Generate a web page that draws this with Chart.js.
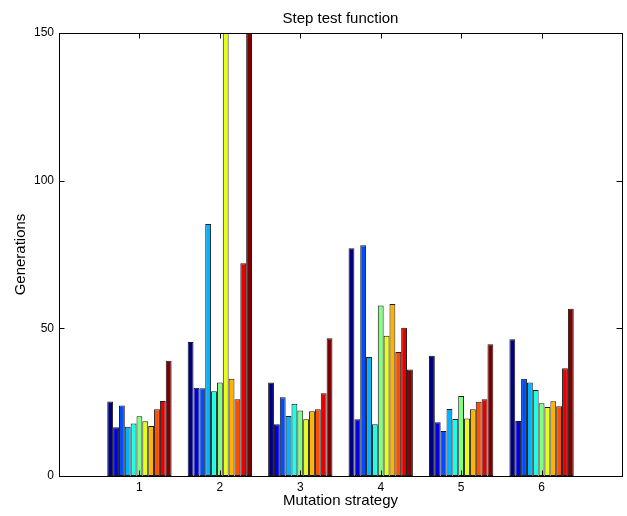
<!DOCTYPE html>
<html>
<head>
<meta charset="utf-8">
<script src="https://cdn.jsdelivr.net/npm/chart.js@4/dist/chart.umd.min.js"></script>
<style>
  html, body { margin: 0; padding: 0; background: #fff; }
  #wrap { width: 627px; height: 516px; }
</style>
</head>
<body>
<div id="wrap"><canvas id="chart" width="627" height="516"></canvas></div>
<script>
// Mutation strategies on the x axis
const strategies = ["1", "2", "3", "4", "5", "6"];
const yTicks = [0, 50, 100, 150];

// One array per bar position inside a group (values for strategies 1..6)
// bars that run off the top of the axes are given 200
const s1  = [25.2, 45.4, 31.7, 77.1, 40.7, 46.3];
const s2  = [16.5, 29.9, 17.5, 19.2, 18.2, 18.6];
const s3  = [23.9, 29.7, 26.7, 78.1, 15.2, 32.9];
const s4  = [16.7, 85.3, 20.3, 40.3, 22.7, 31.7];
const s5  = [17.8, 28.7, 24.5, 17.5, 19.3, 29.1];
const s6  = [20.2, 31.7, 22.2, 57.7, 27.1, 24.6];
const s7  = [18.5, 200,  19.2, 47.5, 19.5, 23.4];
const s8  = [16.9, 32.9, 21.9, 58.2, 22.6, 25.3];
const s9  = [22.6, 26.0, 22.6, 42.0, 25.1, 23.6];
const s10 = [25.4, 72.0, 28.0, 50.2, 26.0, 36.5];
const s11 = [39.0, 200,  46.6, 36.1, 44.6, 56.6];

const series = [s1, s2, s3, s4, s5, s6, s7, s8, s9, s10, s11];

// jet colours, 11 steps
const barColors = [
  "#000080", "#0000e6", "#004dff", "#00b3ff", "#1affe6", "#80ff80",
  "#e6ff1a", "#ffb300", "#ff4d00", "#e60000", "#800000"
];

// pad the category axis so it runs from 0 to 7 like the original
const labels = ["", ...strategies, ""];

const font = "'Liberation Sans', Arial, Helvetica, sans-serif";

// box round the axes and inward tick marks on all four sides
const boxPlugin = {
  id: "box",
  afterDatasetsDraw(chart) {
    const { ctx, chartArea: a, scales } = chart;
    const len = 5.5;
    ctx.save();
    ctx.strokeStyle = "#000";
    ctx.lineWidth = 1;
    ctx.beginPath();
    yTicks.forEach(v => {
      const y = Math.round(scales.y.getPixelForValue(v)) + 0.5;
      ctx.moveTo(a.left, y); ctx.lineTo(a.left + len, y);
      ctx.moveTo(a.right, y); ctx.lineTo(a.right - len, y);
    });
    strategies.forEach((s, i) => {
      const x = Math.round(scales.x.getPixelForValue(i + 1)) + 0.5;
      ctx.moveTo(x, a.bottom); ctx.lineTo(x, a.bottom - len);
      ctx.moveTo(x, a.top); ctx.lineTo(x, a.top + len);
    });
    ctx.stroke();
    ctx.strokeRect(Math.round(a.left) + 0.5, Math.round(a.top) + 0.5,
      Math.round(a.right - a.left), Math.round(a.bottom - a.top));
    ctx.restore();
  }
};

new Chart(document.getElementById("chart"), {
  type: "bar",
  plugins: [boxPlugin],
  data: {
    labels: labels,
    datasets: series.map((vals, i) => ({
      data: [null, ...vals, null],
      backgroundColor: barColors[i],
      borderColor: "#1a1a1a",
      borderWidth: 1,
      borderSkipped: false,
      categoryPercentage: 0.8,
      barPercentage: 1.0
    }))
  },
  options: {
    responsive: false,
    animation: false,
    layout: { padding: { left: 0, right: 5, top: 0, bottom: 0 } },
    plugins: {
      legend: { display: false },
      tooltip: { enabled: false },
      title: {
        display: true,
        text: "Step test function",
        color: "#000",
        fullSize: false,
        font: { family: font, size: 15, weight: "normal" },
        padding: { top: 10, bottom: 5 }
      }
    },
    scales: {
      x: {
        offset: false,
        grid: { display: false, drawTicks: false },
        border: { display: false },
        ticks: {
          autoSkip: false,
          maxRotation: 0,
          color: "#000",
          padding: 4,
          font: { family: font, size: 12 },
          callback: (v, i) => labels[i]
        },
        title: {
          display: true,
          text: "Mutation strategy",
          color: "#000",
          font: { family: font, size: 15 },
          padding: { top: 0, bottom: 6 }
        },
        afterFit: s => { s.height = 40; }
      },
      y: {
        min: 0,
        max: 150,
        grid: { display: false, drawTicks: false },
        border: { display: false },
        afterBuildTicks: s => { s.ticks = yTicks.map(v => ({ value: v })); },
        ticks: {
          color: "#000",
          padding: 5,
          font: { family: font, size: 12 }
        },
        title: {
          display: true,
          text: "Generations",
          color: "#000",
          font: { family: font, size: 15 },
          padding: { top: 12, bottom: 0 }
        },
        afterFit: s => { s.width = 59; }
      }
    }
  }
});
</script>
</body>
</html>
